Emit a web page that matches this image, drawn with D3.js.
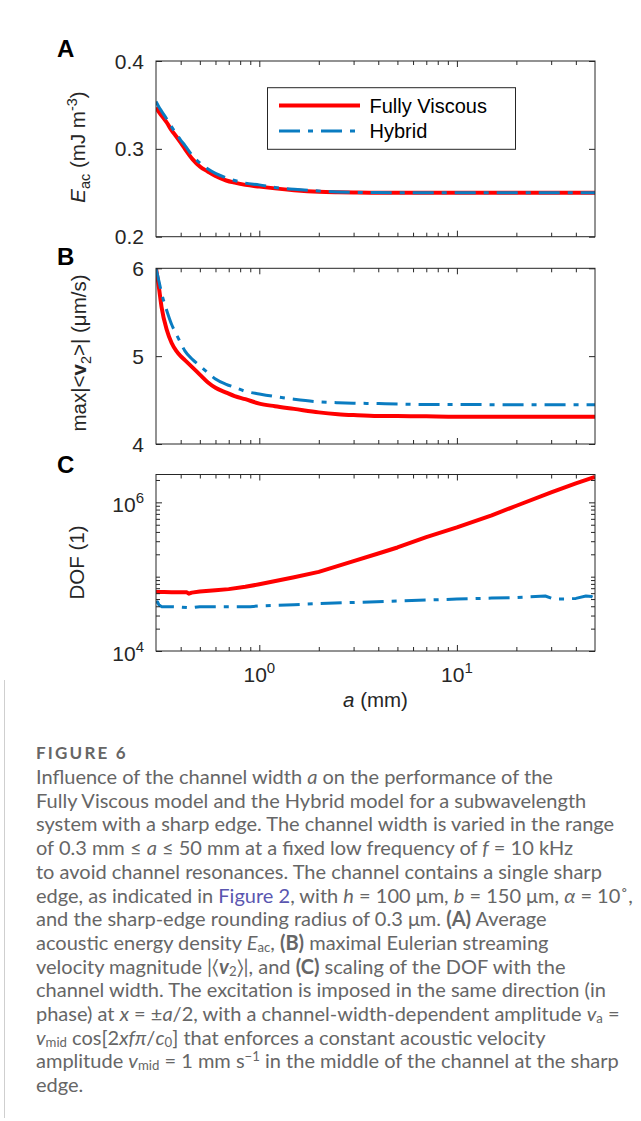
<!DOCTYPE html>
<html>
<head>
<meta charset="utf-8">
<script src="https://cdn.jsdelivr.net/npm/d3@7"></script>
<style>
  body { margin: 0; background: #fff; }
  svg { display: block; }
</style>
</head>
<body>
<div id="chart"></div>
<script>
// channel width a (mm) for panels A and B
const widthAB = [0.3, 0.31, 0.32, 0.34, 0.36, 0.38, 0.4, 0.42, 0.46, 0.5, 0.55, 0.6, 0.68, 0.75, 0.85, 1, 1.2, 1.5, 2, 2.5, 3, 4, 5, 7, 10, 15, 20, 30, 40, 50];

// (A) acoustic energy density E_ac (mJ m^-3)
const eacViscous = [0.347, 0.342, 0.338, 0.330, 0.321, 0.314, 0.307, 0.300, 0.288, 0.280, 0.274, 0.269, 0.264, 0.2615, 0.259, 0.257, 0.255, 0.253, 0.2512, 0.2506, 0.2503, 0.25, 0.25, 0.25, 0.25, 0.25, 0.25, 0.25, 0.25, 0.25];
const eacHybrid  = [0.354, 0.348, 0.343, 0.334, 0.325, 0.317, 0.310, 0.304, 0.292, 0.284, 0.277, 0.272, 0.267, 0.264, 0.261, 0.259, 0.256, 0.254, 0.252, 0.251, 0.2505, 0.2502, 0.25, 0.25, 0.25, 0.25, 0.25, 0.25, 0.25, 0.25];

// (B) max streaming velocity (um/s)
const v2Viscous = [6.00, 5.79, 5.56, 5.30, 5.15, 5.06, 5.00, 4.955, 4.87, 4.79, 4.70, 4.64, 4.585, 4.545, 4.51, 4.46, 4.43, 4.40, 4.36, 4.34, 4.33, 4.32, 4.32, 4.315, 4.31, 4.31, 4.31, 4.31, 4.31, 4.31];
const v2Hybrid  = [6.00, 5.86, 5.72, 5.52, 5.36, 5.25, 5.15, 5.06, 4.96, 4.89, 4.81, 4.74, 4.68, 4.645, 4.60, 4.57, 4.54, 4.51, 4.48, 4.47, 4.465, 4.46, 4.455, 4.45, 4.45, 4.448, 4.447, 4.447, 4.447, 4.447];

// (C) degrees of freedom
const widthDofViscous = [0.3, 0.33, 0.36, 0.4, 0.43, 0.44, 0.455, 0.5, 0.6, 0.7, 0.85, 1, 1.5, 2, 3, 4, 5, 7, 10, 15, 20, 30, 40, 50];
const dofViscous = [6.2e4, 6.2e4, 6.18e4, 6.15e4, 6.15e4, 5.9e4, 6.1e4, 6.3e4, 6.55e4, 6.8e4, 7.3e4, 7.9e4, 9.8e4, 1.16e5, 1.62e5, 2.05e5, 2.47e5, 3.4e5, 4.6e5, 6.7e5, 9.0e5, 1.36e6, 1.8e6, 2.2e6];
const widthDofHybrid = [0.3, 0.305, 0.31, 0.32, 0.35, 0.4, 0.45, 0.5, 0.6, 0.7, 0.9, 1, 1.5, 2, 3, 5, 7, 10, 15, 20, 25, 28, 31, 35, 40, 45, 48, 50];
const dofHybrid = [4.4e4, 4.6e4, 4.2e4, 3.95e4, 3.95e4, 3.9e4, 3.8e4, 3.95e4, 3.95e4, 3.95e4, 3.95e4, 4.05e4, 4.2e4, 4.35e4, 4.5e4, 4.7e4, 4.85e4, 5.0e4, 5.15e4, 5.25e4, 5.4e4, 5.5e4, 5.0e4, 5.0e4, 5.1e4, 5.5e4, 5.4e4, 5.1e4];

// tick values
const xMajor = [1, 10];
const xMinor = [0.4, 0.5, 0.6, 0.7, 0.8, 0.9, 2, 3, 4, 5, 6, 7, 8, 9, 20, 30, 40];
const yTicksA = [0.2, 0.3, 0.4];
const yTicksB = [4, 5, 6];
const yMajorC = [1e4, 1e6];
const yMinorC = [2e4, 3e4, 4e4, 5e4, 6e4, 7e4, 8e4, 9e4, 1e5, 2e5, 3e5, 4e5, 5e5, 6e5, 7e5, 8e5, 9e5, 2e6];

const W = 641, H = 1121;
const left = 156, right = 595;
const ink = "#262626";
const red = "#ff0000", blue = "#0a7cc1";
const chartFont = "'Liberation Sans', Arial, Helvetica, sans-serif";
const tickSize = 21;

const svg = d3.select("#chart").append("svg")
  .attr("width", W)
  .attr("height", H);

const x = d3.scaleLog().domain([0.3, 50]).range([left, right]);

const panels = [
  { letter: "A", top: 61, bottom: 236.7,
    y: d3.scaleLinear().domain([0.2, 0.4]),
    xs: [widthAB, widthAB], ys: [eacViscous, eacHybrid], curve: d3.curveMonotoneX },
  { letter: "B", top: 268.3, bottom: 444,
    y: d3.scaleLinear().domain([4, 6]),
    xs: [widthAB, widthAB], ys: [v2Viscous, v2Hybrid], curve: d3.curveMonotoneX },
  { letter: "C", top: 474.5, bottom: 651,
    y: d3.scaleLog().domain([1e4, 2.37e6]),
    xs: [widthDofViscous, widthDofHybrid], ys: [dofViscous, dofHybrid], curve: d3.curveLinear }
];

panels.forEach((p, i) => {
  p.y.range([p.bottom, p.top]);
  const g = svg.append("g").attr("font-family", chartFont);

  g.append("clipPath").attr("id", "clip" + i)
    .append("rect")
    .attr("x", left).attr("y", p.top)
    .attr("width", right - left).attr("height", p.bottom - p.top);

  // data lines: fully viscous (solid red) under hybrid (dash-dot blue)
  const styles = [
    { color: red, width: 4, dash: null },
    { color: blue, width: 3, dash: "21,8,5,8" }
  ];
  p.ys.forEach((vals, k) => {
    const pts = vals.map((v, j) => [p.xs[k][j], v]);
    g.append("path")
      .datum(pts)
      .attr("clip-path", `url(#clip${i})`)
      .attr("fill", "none")
      .attr("stroke", styles[k].color)
      .attr("stroke-width", styles[k].width)
      .attr("stroke-dasharray", styles[k].dash)
      .attr("stroke-linejoin", "round")
      .attr("d", d3.line().x(d => x(d[0])).y(d => p.y(d[1])).curve(p.curve));
  });

  // ticks on all four sides, pointing inward
  const addAxis = (axis, tx, ty) => {
    const a = g.append("g").attr("transform", `translate(${tx},${ty})`).call(axis);
    a.select(".domain").remove();
    a.selectAll("line").attr("stroke", ink).attr("stroke-width", 1);
    a.selectAll("text").remove();
    return a;
  };
  addAxis(d3.axisBottom(x).tickValues(xMinor).tickSize(-4), 0, p.bottom);
  addAxis(d3.axisBottom(x).tickValues(xMajor).tickSize(-6), 0, p.bottom);
  addAxis(d3.axisTop(x).tickValues(xMinor).tickSize(-4), 0, p.top);
  addAxis(d3.axisTop(x).tickValues(xMajor).tickSize(-6), 0, p.top);

  let yMaj;
  if (p.letter === "C") {
    yMaj = yMajorC;
    addAxis(d3.axisLeft(p.y).tickValues(yMinorC).tickSize(-4), left, 0);
    addAxis(d3.axisRight(p.y).tickValues(yMinorC).tickSize(-4), right, 0);
  } else {
    yMaj = p.letter === "A" ? yTicksA : yTicksB;
  }
  addAxis(d3.axisLeft(p.y).tickValues(yMaj).tickSize(-6), left, 0);
  addAxis(d3.axisRight(p.y).tickValues(yMaj).tickSize(-6), right, 0);

  // frame
  g.append("rect")
    .attr("x", left).attr("y", p.top)
    .attr("width", right - left).attr("height", p.bottom - p.top)
    .attr("fill", "none").attr("stroke", ink).attr("stroke-width", 1);

  // y tick labels
  yMaj.forEach(v => {
    const t = g.append("text")
      .attr("x", left - 12)
      .attr("text-anchor", "end")
      .attr("font-size", tickSize)
      .attr("fill", ink);
    if (p.letter === "C") {
      t.attr("y", p.y(v) + 10);
      t.append("tspan").text("10");
      t.append("tspan").attr("dy", -9).attr("font-size", 15).text(Math.round(Math.log10(v)));
    } else {
      t.attr("y", p.y(v) + 7.5).text(p.letter === "A" ? d3.format(".1f")(v) : v);
    }
  });

  // panel letter
  g.append("text")
    .attr("x", 57)
    .attr("y", [56.7, 265, 473][i])
    .attr("font-size", 24)
    .attr("font-weight", "bold")
    .attr("fill", "#000")
    .text(p.letter);
});

// y axis labels
const yLab = (cy, bx) => svg.append("text")
  .attr("transform", `translate(${bx},${cy}) rotate(-90)`)
  .attr("text-anchor", "middle")
  .attr("font-family", chartFont)
  .attr("font-size", 20.5)
  .attr("fill", ink);

const labA = yLab(147, 85);
labA.append("tspan").attr("font-style", "italic").text("E");
labA.append("tspan").attr("dy", 5).attr("font-size", 14.5).text("ac");
labA.append("tspan").attr("dy", -5).text(" (mJ m");
labA.append("tspan").attr("dy", -8).attr("font-size", 14.5).text("-3");
labA.append("tspan").attr("dy", 8).text(")");

const labB = yLab(353, 86);
labB.append("tspan").text("max|<");
labB.append("tspan").attr("font-weight", "bold").text("v");
labB.append("tspan").attr("dy", 5).attr("font-size", 14.5).text("2");
labB.append("tspan").attr("dy", -5).text(">| (\u03bcm/s)");

yLab(562.5, 84).text("DOF (1)");

// x tick labels (panel C only)
xMajor.forEach(v => {
  const t = svg.append("text")
    .attr("x", x(v))
    .attr("y", 681.7)
    .attr("text-anchor", "middle")
    .attr("font-family", chartFont)
    .attr("font-size", tickSize)
    .attr("fill", ink);
  t.append("tspan").text("10");
  t.append("tspan").attr("dy", -9).attr("font-size", 15).text(Math.round(Math.log10(v)));
});

const xl = svg.append("text")
  .attr("x", (left + right) / 2)
  .attr("y", 707)
  .attr("text-anchor", "middle")
  .attr("font-family", chartFont)
  .attr("font-size", 20.5)
  .attr("fill", ink);
xl.append("tspan").attr("font-style", "italic").text("a");
xl.append("tspan").text(" (mm)");

// legend in panel A
const leg = svg.append("g").attr("font-family", chartFont);
leg.append("rect")
  .attr("x", 267.5).attr("y", 87.7)
  .attr("width", 248).attr("height", 61.6)
  .attr("fill", "#fff").attr("stroke", ink).attr("stroke-width", 1);
[["Fully Viscous", red, 4, null, 105.5, 112.7], ["Hybrid", blue, 3, "21,8,5,8", 131, 138.3]]
  .forEach(([name, color, w, dash, ly, ty]) => {
    leg.append("line")
      .attr("x1", 279).attr("x2", 360).attr("y1", ly).attr("y2", ly)
      .attr("stroke", color).attr("stroke-width", w).attr("stroke-dasharray", dash);
    leg.append("text")
      .attr("x", 369.5).attr("y", ty)
      .attr("font-size", 20).attr("fill", "#000")
      .text(name);
  });

// caption
const capLines = [
  [["Influence of the channel width "], ["a", "i"], [" on the performance of the"]],
  [["Fully Viscous model and the Hybrid model for a subwavelength"]],
  [["system with a sharp edge. The channel width is varied in the range"]],
  [["of 0.3 mm \u2264 "], ["a", "i"], [" \u2264 50 mm at a fixed low frequency of "], ["f", "i"], [" = 10 kHz"]],
  [["to avoid channel resonances. The channel contains a single sharp"]],
  [["edge, as indicated in "], ["Figure 2", "link"], [", with "], ["h", "i"], [" = 100 \u03bcm, "], ["b", "i"], [" = 150 \u03bcm, "], ["\u03b1", "i"], [" = 10\u02da,"]],
  [["and the sharp-edge rounding radius of 0.3 \u03bcm. "], ["(A)", "b"], [" Average"]],
  [["acoustic energy density "], ["E", "i"], ["ac", "sub"], [", "], ["(B)", "b"], [" maximal Eulerian streaming"]],
  [["velocity magnitude |\u2329"], ["v", "bi"], ["2", "sub"], ["\u232a|, and "], ["(C)", "b"], [" scaling of the DOF with the"]],
  [["channel width. The excitation is imposed in the same direction (in"]],
  [["phase) at "], ["x", "i"], [" = \u00b1"], ["a", "i"], ["/2, with a channel-width-dependent amplitude "], ["v", "i"], ["a", "sub"], [" ="]],
  [["v", "i"], ["mid", "sub"], [" cos[2"], ["xf\u03c0", "i"], ["/"], ["c", "i"], ["0", "sub"], ["] that enforces a constant acoustic velocity"]],
  [["amplitude "], ["v", "i"], ["mid", "sub"], [" = 1 mm s"], ["\u22121", "sup"], [" in the middle of the channel at the sharp"]],
  [["edge."]]
];

const capFont = "Lato, 'Open Sans', 'DejaVu Sans', sans-serif";
const capGray = "#666666";

svg.append("line")
  .attr("x1", 4.5).attr("x2", 4.5).attr("y1", 680).attr("y2", 1118)
  .attr("stroke", "#cfcfcf").attr("stroke-width", 1);

svg.append("text")
  .attr("x", 36).attr("y", 759)
  .attr("font-family", capFont)
  .attr("font-size", 17)
  .attr("font-weight", "bold")
  .attr("letter-spacing", 2.2)
  .attr("fill", capGray)
  .text("FIGURE 6");

const cap = svg.append("g")
  .attr("font-family", capFont)
  .attr("font-size", 20)
  .attr("fill", capGray);

capLines.forEach((segs, i) => {
  const t = cap.append("text").attr("x", 36).attr("y", 784 + i * 23.7);
  let off = 0;
  segs.forEach(([str, st]) => {
    const target = st === "sub" ? 2 : st === "sup" ? -7 : 0;
    const s = t.append("tspan").text(str);
    if (target !== off) s.attr("dy", target - off);
    off = target;
    if (st === "sub" || st === "sup") s.attr("font-size", "0.66em");
    if (st === "i" || st === "bi") s.attr("font-style", "italic");
    if (st === "b" || st === "bi") s.attr("font-weight", "bold");
    if (st === "link") s.attr("fill", "#5a56b0");
  });
});
</script>
</body>
</html>
